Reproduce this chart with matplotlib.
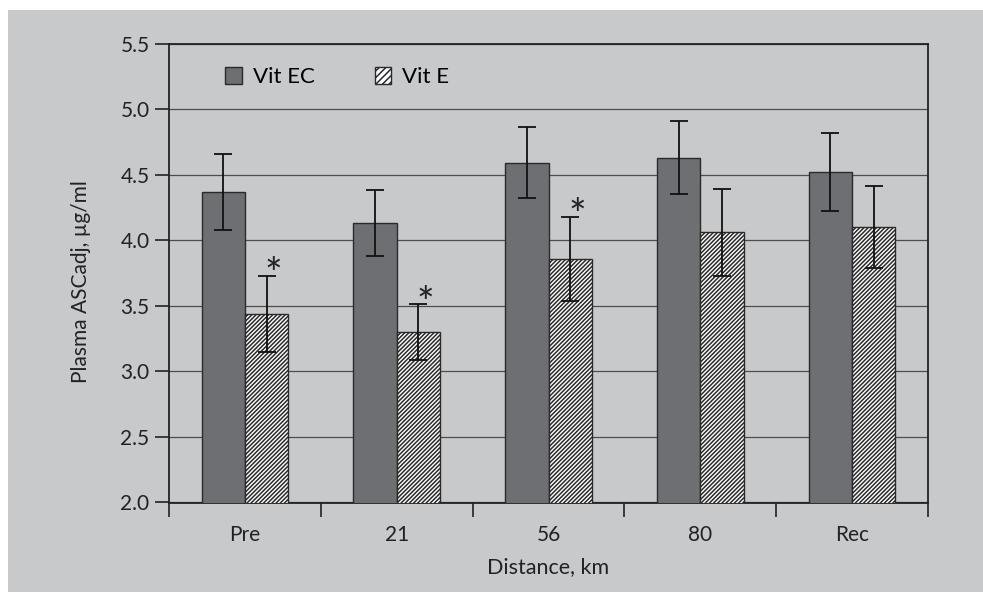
import numpy as np
import matplotlib
matplotlib.use("Agg")
import matplotlib.pyplot as plt
from matplotlib.patches import Rectangle, Patch
from matplotlib import rcParams

rcParams['font.family'] = ['Lato', 'DejaVu Sans']
rcParams['font.size'] = 15
rcParams['hatch.linewidth'] = 1.1
rcParams['hatch.color'] = '#111111'

# Plasma ascorbate by stage, mean and error
categories = ['Pre', '21', '56', '80', 'Rec']
vit_ec = [4.37, 4.13, 4.59, 4.63, 4.52]
vit_ec_err = [0.29, 0.25, 0.27, 0.28, 0.30]
vit_e = [3.44, 3.30, 3.86, 4.06, 4.10]
vit_e_err = [0.29, 0.21, 0.32, 0.33, 0.31]
significant = [True, True, True, False, False]

BG = '#c8c9cb'
BAR_DARK = '#6e6f73'
EDGE = '#2a2a2a'
TXT = '#222222'
HATCH = '////////'

fig = plt.figure(figsize=(9.83, 5.92), dpi=100)
fig.patch.set_facecolor('white')
fig.patches.append(Rectangle((8 / 983, 0), 1, 1 - 10 / 592, transform=fig.transFigure,
                             facecolor=BG, edgecolor='none', zorder=-10))

ax = fig.add_axes([169 / 983, 1 - 502.5 / 592, (928 - 169) / 983, (502.5 - 43.5) / 592])
ax.set_facecolor(BG)

x = np.arange(len(categories))
w = 0.285

err_kw = dict(ecolor='#111111', elinewidth=1.3, capsize=6.5, capthick=1.3)
ax.bar(x - w / 2, vit_ec, w, color=BAR_DARK, edgecolor=EDGE, linewidth=1.0,
       yerr=vit_ec_err, error_kw=err_kw, zorder=3)
ax.bar(x + w / 2, vit_e, w, color='white', edgecolor=EDGE, linewidth=1.0, hatch=HATCH,
       yerr=vit_e_err, error_kw=err_kw, zorder=3)

# significance markers above the Vit E error bars
for xi, v, e, sig in zip(x, vit_e, vit_e_err, significant):
    if sig:
        ax.annotate('*', (xi + w / 2, v + e), xytext=(5, -14), textcoords='offset points',
                    ha='center', va='bottom', fontsize=30, color=TXT, zorder=4)

ax.set_ylim(2.0, 5.5)
ax.set_xlim(-0.5, len(categories) - 0.5)
yt = np.arange(2.0, 5.51, 0.5)
ax.set_yticks(yt)
ax.set_yticklabels([f'{t:.1f}' for t in yt])
ax.set_xticks(x)
ax.set_xticklabels(categories)
ax.set_xticks(np.arange(-0.5, len(categories), 1.0), minor=True)
ax.tick_params(axis='x', which='major', length=0, pad=16)
ax.tick_params(axis='x', which='minor', length=10, width=1.2, color=TXT)
ax.tick_params(axis='y', length=10, width=1.2, color=TXT, pad=4)
ax.tick_params(colors=TXT, which='both')

ax.grid(axis='y', color='#4d4d4d', linewidth=0.9, zorder=0)
ax.set_axisbelow(True)
for s in ax.spines.values():
    s.set_color(TXT)
    s.set_linewidth(1.3)

ax.set_xlabel('Distance, km', labelpad=9, color=TXT, fontsize=15.5)
fig.text(81 / 983, 1 - 281.5 / 592, 'Plasma ASCadj, µg/ml', rotation=90,
         ha='center', va='center', fontsize=15, color=TXT)

handles = [Patch(facecolor=BAR_DARK, edgecolor=EDGE, linewidth=1.0),
           Patch(facecolor='white', edgecolor=EDGE, linewidth=1.0, hatch='/////')]
ax.legend(handles, ['Vit EC', 'Vit E'], ncol=2, frameon=False, loc='upper left',
          bbox_to_anchor=(56 / 759, 0.948), borderpad=0, borderaxespad=0, fontsize=16,
          handlelength=0.75, handleheight=0.75, handletextpad=0.5, columnspacing=2.7)

fig.savefig('out.png', dpi=100, facecolor='white')
